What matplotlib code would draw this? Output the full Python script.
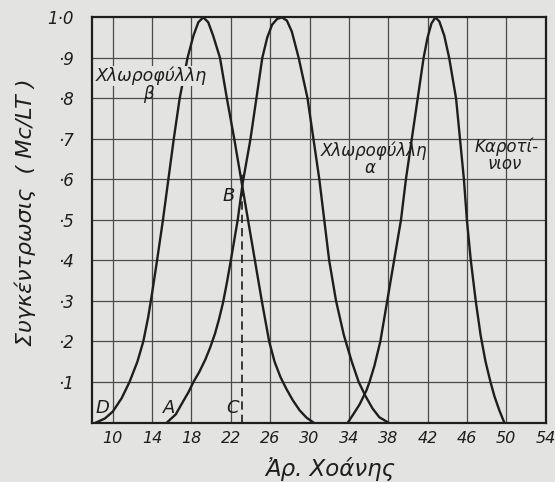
import matplotlib.pyplot as plt

# values (fraction number vs concentration)
chl_b_x = [8.3, 9.2, 10.0, 10.9, 11.7, 12.5, 13.1, 13.6, 14.0, 14.5, 15.1, 15.65, 16.2,
           16.8, 17.6, 18.2, 18.7, 19.2, 19.7, 20.2, 20.9, 21.6, 22.35, 23.05, 23.75,
           24.45, 25.15, 25.9, 26.45, 27.05, 27.65, 28.3, 29.0, 29.7, 30.4]
chl_b_y = [0.0, 0.01, 0.027, 0.06, 0.1, 0.15, 0.2, 0.26, 0.32, 0.4, 0.5, 0.6, 0.7,
           0.8, 0.9, 0.955, 0.988, 1.0, 0.988, 0.955, 0.9, 0.8, 0.7, 0.6, 0.5,
           0.4, 0.3, 0.2, 0.15, 0.112, 0.083, 0.055, 0.03, 0.012, 0.0]

chl_a_x = [15.5, 16.4, 17.1, 17.7, 18.2, 18.8, 19.4, 19.9, 20.4, 20.8, 21.2, 21.6,
           22.0, 22.7, 23.2, 24.0, 24.6, 25.2, 25.7, 26.2, 26.7, 27.2, 27.7, 28.2,
           28.9, 29.8, 30.4, 31.0, 31.5, 32.0, 32.7, 33.5, 34.3, 35.0, 35.7, 36.4,
           37.1, 38.0]
chl_a_y = [0.0, 0.02, 0.05, 0.075, 0.1, 0.125, 0.155, 0.185, 0.22, 0.255, 0.295, 0.345,
           0.4, 0.5, 0.59, 0.7, 0.8, 0.9, 0.95, 0.982, 0.996, 1.0, 0.992, 0.965,
           0.9, 0.8, 0.7, 0.6, 0.5, 0.4, 0.3, 0.215, 0.15, 0.1, 0.065, 0.035,
           0.013, 0.0]

carot_x = [33.9, 34.5, 35.1, 35.8, 36.1, 36.6, 37.2, 37.9, 38.6, 39.3, 39.8, 40.4,
           41.0, 41.6, 42.0, 42.4, 42.8, 43.2, 43.7, 44.2, 44.9, 45.3, 45.7, 46.0,
           46.4, 46.9, 47.4, 47.9, 48.4, 48.8, 49.3, 49.8]
carot_y = [0.0, 0.022, 0.045, 0.08, 0.1, 0.14, 0.2, 0.3, 0.4, 0.5, 0.6, 0.7,
           0.8, 0.9, 0.95, 0.985, 1.0, 0.99, 0.955, 0.9, 0.8, 0.7, 0.6, 0.5,
           0.4, 0.3, 0.215, 0.15, 0.1, 0.065, 0.03, 0.0]

b_point = (23.15, 0.59)

x_ticks = [10, 14, 18, 22, 26, 30, 34, 38, 42, 46, 50, 54]
y_ticks = [0.1, 0.2, 0.3, 0.4, 0.5, 0.6, 0.7, 0.8, 0.9, 1.0]
y_tick_labels = ['·1', '·2', '·3', '·4', '·5', '·6', '·7', '·8', '·9', '1·0']

paper = '#e3e3e1'
ink = '#1e1e1e'

fig = plt.figure(figsize=(5.55, 4.82), dpi=100, facecolor=paper)
ax = fig.add_axes([0.166, 0.1234, 0.817, 0.8406])
ax.set_facecolor(paper)

# grid
for gx in x_ticks[:-1]:
    ax.axvline(gx, color='#4a4a4a', lw=0.9, zorder=1)
for gy in y_ticks[:-1]:
    ax.axhline(gy, color='#4a4a4a', lw=0.9, zorder=1)

# curves
ax.plot(chl_b_x, chl_b_y, color=ink, lw=1.7, zorder=3, solid_joinstyle='round')
ax.plot(chl_a_x, chl_a_y, color=ink, lw=1.7, zorder=3, solid_joinstyle='round')
ax.plot(carot_x, carot_y, color=ink, lw=1.7, zorder=3, solid_joinstyle='round')

# dashed line from C up to B
ax.plot([b_point[0], b_point[0]], [0, b_point[1] + 0.03], color=ink, lw=1.2,
        ls=(0, (5, 3)), zorder=2)

ax.set_xlim(7.9, 54)
ax.set_ylim(0, 1.0)
ax.set_xticks(x_ticks)
ax.set_xticklabels([str(t) for t in x_ticks], fontstyle='italic', fontsize=11.5)
ax.set_yticks(y_ticks)
ax.set_yticklabels(y_tick_labels, fontstyle='italic', fontsize=12)
ax.tick_params(length=0, pad=6, colors=ink)
ax.tick_params(axis='y', pad=13)
for s in ax.spines.values():
    s.set_linewidth(1.6)
    s.set_color(ink)

# labels on the chart
txt = dict(fontstyle='italic', color=ink, ha='center', va='center', zorder=4)
ax.text(13.9, 0.855, 'Χλωροφύλλη', fontsize=12.5,
        bbox=dict(facecolor=paper, edgecolor='none', pad=0.5), **txt)
ax.text(13.6, 0.812, 'β', fontsize=12, **txt)
ax.text(36.6, 0.67, 'Χλωροφύλλη', fontsize=12, **txt)
ax.text(36.2, 0.628, 'α', fontsize=12, **txt)
ax.text(50.0, 0.68, 'Καροτί-', fontsize=12, **txt)
ax.text(49.8, 0.638, 'νιον', fontsize=12, **txt)
ax.text(21.8, 0.56, 'B', fontsize=13, **txt)
ax.text(22.2, 0.035, 'C', fontsize=13, **txt)
ax.text(9.0, 0.035, 'D', fontsize=13, **txt)
ax.text(15.7, 0.035, 'A', fontsize=13, **txt)

fig.text(0.045, 0.56, 'Συγκέντρωσις  ( Mc/LT )', rotation=90, fontsize=16,
         fontstyle='italic', color=ink, ha='center', va='center')
fig.text(0.595, 0.028, 'Ἀρ. Χοάνης', fontsize=16.5, fontstyle='italic', color=ink,
         ha='center', va='center')

fig.savefig('out.png', dpi=100, facecolor=paper)
